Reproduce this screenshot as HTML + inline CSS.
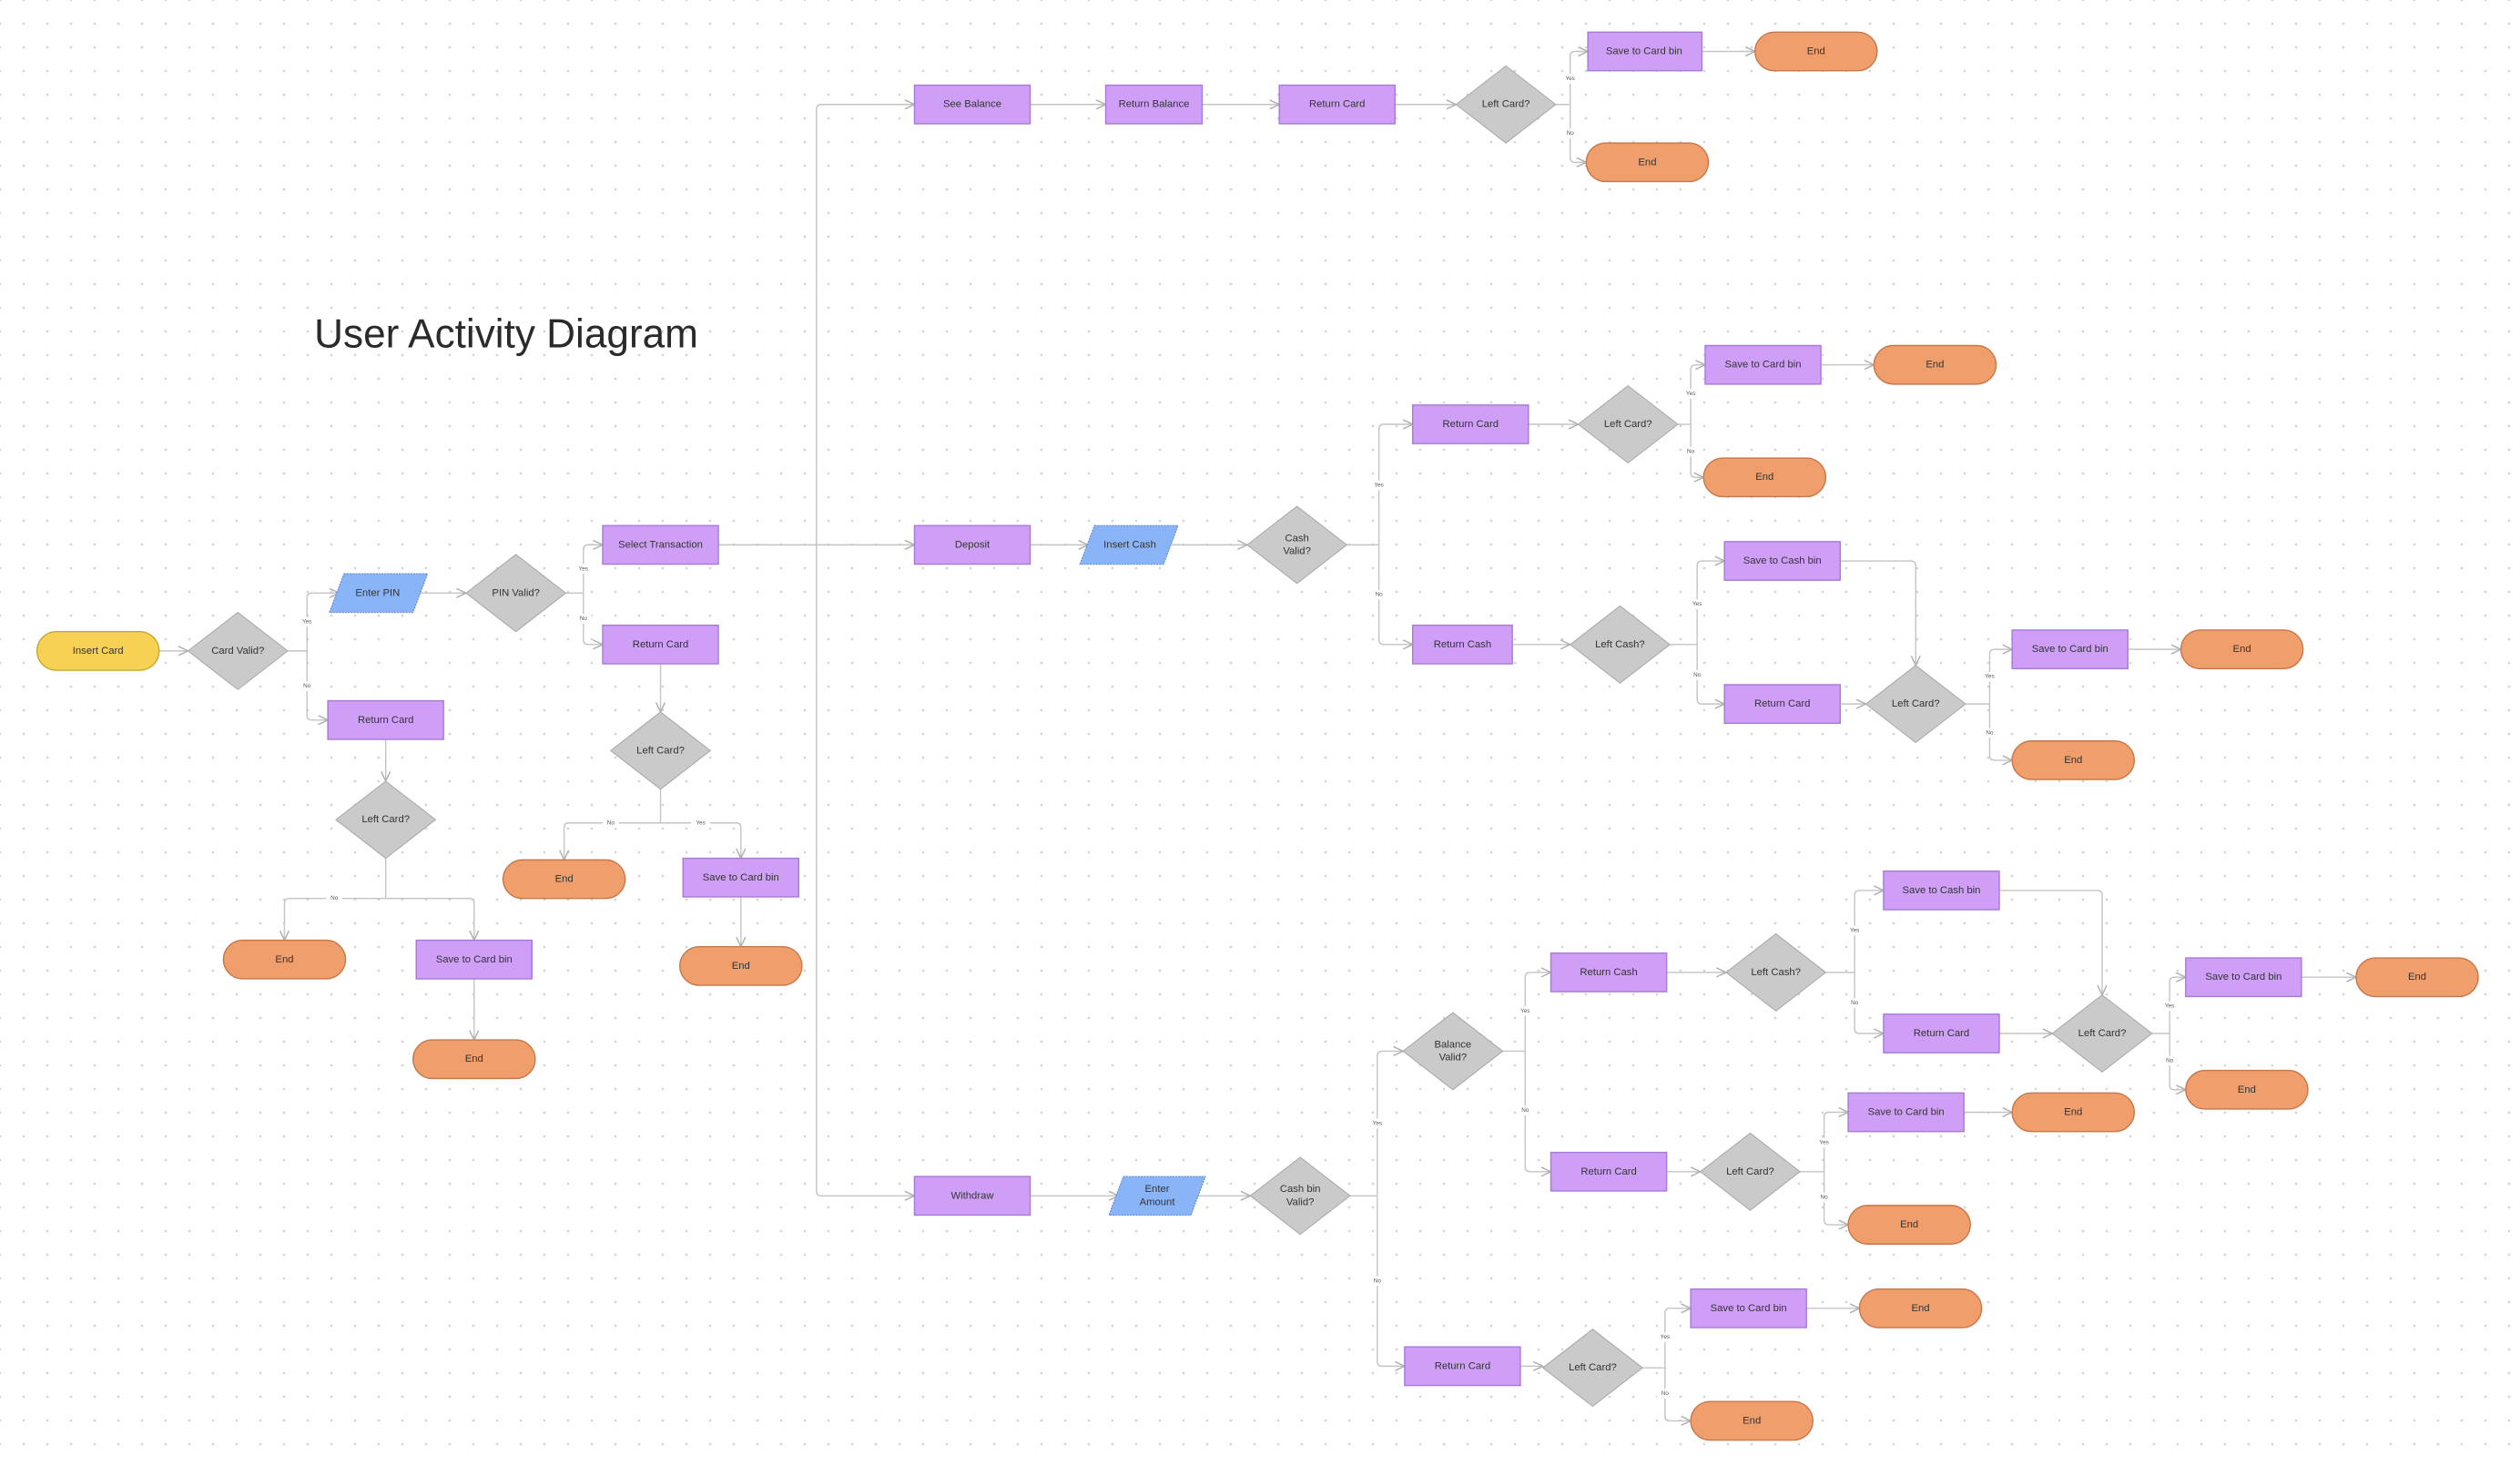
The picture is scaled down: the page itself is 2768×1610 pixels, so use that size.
<!DOCTYPE html>
<html><head><meta charset="utf-8"><style>
html,body{margin:0;padding:0;background:#fff;}
body{width:2768px;height:1610px;overflow:hidden;background-image:radial-gradient(circle,#d4d4d4 1.2px,transparent 1.5px);background-size:26px 26px;background-position:13px 13px;}
svg{position:absolute;left:0;top:0;}
text{font-family:"Liberation Sans",sans-serif;fill:#333;text-anchor:middle;dominant-baseline:central;font-size:6.4px;}
.l{font-size:3.6px;fill:#555;}
.r{fill:#cf9ff7;stroke:#a87ad8;stroke-width:0.8;}
.d{fill:#cbcacb;stroke:#a9a9a9;stroke-width:0.6;}
.t{fill:#ef9e6c;stroke:#c7774a;stroke-width:0.8;}
.y{fill:#f7d154;stroke:#c6a633;stroke-width:0.8;}
.p{fill:#8ab4f8;stroke:#6890d6;stroke-width:0.7;stroke-dasharray:1.2 0.6;}
.c{fill:none;stroke:#c4c4c4;stroke-width:0.8;}
.a{fill:none;stroke:#c4c4c4;stroke-width:0.8;marker-end:url(#m);}
</style></head><body>
<svg width="2768" height="1610" viewBox="0 0 1568 912.1" preserveAspectRatio="none">
<defs><marker id="m" viewBox="0 0 10 10" refX="9.5" refY="5" markerWidth="7" markerHeight="7" orient="auto" markerUnits="userSpaceOnUse"><path d="M1,1 L9.5,5 L1,9" fill="none" stroke="#b0b0b0" stroke-width="1.2"/></marker></defs>

<text x="315" y="208" style="font-size:25px;fill:#2a2a2a">User Activity Diagram</text>

<!-- connectors -->
<path class="a" d="M99,405 H117"/>
<path class="c" d="M179,405 H191"/>
<path class="a" d="M191,405 V372 Q191,369 194,369 H211"/>
<path class="a" d="M191,405 V445 Q191,448 194,448 H204"/>
<path class="a" d="M261,369 H290"/>
<path class="c" d="M352,369 H363"/>
<path class="a" d="M363,369 V342 Q363,339 366,339 H375"/>
<path class="a" d="M363,369 V398 Q363,401 366,401 H375"/>
<path class="a" d="M411,413 V443"/>
<path class="c" d="M411,490 V512"/>
<path class="a" d="M411,512 H354 Q351,512 351,515 V535"/>
<path class="a" d="M411,512 H458 Q461,512 461,515 V534"/>
<path class="a" d="M461,558 V589"/>
<path class="a" d="M240,460 V486"/>
<path class="c" d="M240,534 V559"/>
<path class="a" d="M240,559 H180 Q177,559 177,562 V585"/>
<path class="a" d="M240,559 H292 Q295,559 295,562 V585"/>
<path class="a" d="M295,609 V647"/>

<path class="c" d="M447,339 H508"/>
<path class="c" d="M508,68 V741"/>
<path class="a" d="M508,68 Q508,65 511,65 H569"/>
<path class="a" d="M508,339 H569"/>
<path class="a" d="M508,741 Q508,744 511,744 H569"/>

<path class="a" d="M641,65 H688"/>
<path class="a" d="M748,65 H796"/>
<path class="a" d="M868,65 H906"/>
<path class="c" d="M968,65 H977"/>
<path class="a" d="M977,65 V35 Q977,32 980,32 H988"/>
<path class="a" d="M977,65 V98 Q977,101 980,101 H987"/>
<path class="a" d="M1059,32 H1092"/>

<path class="a" d="M641,339 H677"/>
<path class="a" d="M729,339 H776"/>
<path class="c" d="M838,339 H858"/>
<path class="a" d="M858,339 V267 Q858,264 861,264 H879"/>
<path class="a" d="M858,339 V398 Q858,401 861,401 H879"/>
<path class="a" d="M951,264 H982"/>
<path class="c" d="M1044,264 H1052"/>
<path class="a" d="M1052,264 V230 Q1052,227 1055,227 H1061"/>
<path class="a" d="M1052,264 V294 Q1052,297 1055,297 H1060"/>
<path class="a" d="M1133,227 H1166"/>
<path class="a" d="M941,401 H977"/>
<path class="c" d="M1039,401 H1056"/>
<path class="a" d="M1056,401 V352 Q1056,349 1059,349 H1073"/>
<path class="a" d="M1056,401 V435 Q1056,438 1059,438 H1073"/>
<path class="a" d="M1145,349 H1189 Q1192,349 1192,352 V414"/>
<path class="a" d="M1145,438 H1161"/>
<path class="c" d="M1223,438 H1238"/>
<path class="a" d="M1238,438 V407 Q1238,404 1241,404 H1252"/>
<path class="a" d="M1238,438 V470 Q1238,473 1241,473 H1252"/>
<path class="a" d="M1324,404 H1357"/>

<path class="a" d="M641,744 H696"/>
<path class="a" d="M745,744 H778"/>
<path class="c" d="M840,744 H857"/>
<path class="a" d="M857,744 V657 Q857,654 860,654 H873"/>
<path class="a" d="M857,744 V847 Q857,850 860,850 H874"/>
<path class="c" d="M935,654 H949"/>
<path class="a" d="M949,654 V608 Q949,605 952,605 H965"/>
<path class="a" d="M949,654 V726 Q949,729 952,729 H965"/>
<path class="a" d="M1037,605 H1074"/>
<path class="c" d="M1136,605 H1154"/>
<path class="a" d="M1154,605 V557 Q1154,554 1157,554 H1172"/>
<path class="a" d="M1154,605 V640 Q1154,643 1157,643 H1172"/>
<path class="a" d="M1244,554 H1305 Q1308,554 1308,557 V619"/>
<path class="a" d="M1244,643 H1277"/>
<path class="c" d="M1339,643 H1350"/>
<path class="a" d="M1350,643 V611 Q1350,608 1353,608 H1360"/>
<path class="a" d="M1350,643 V675 Q1350,678 1353,678 H1360"/>
<path class="a" d="M1432,608 H1466"/>
<path class="a" d="M1037,729 H1058"/>
<path class="c" d="M1120,729 H1135"/>
<path class="a" d="M1135,729 V695 Q1135,692 1138,692 H1150"/>
<path class="a" d="M1135,729 V759 Q1135,762 1138,762 H1150"/>
<path class="a" d="M1222,692 H1252"/>
<path class="a" d="M946,850 H960"/>
<path class="c" d="M1022,851 H1036"/>
<path class="a" d="M1036,851 V817 Q1036,814 1039,814 H1052"/>
<path class="a" d="M1036,851 V881 Q1036,884 1039,884 H1052"/>
<path class="a" d="M1124,814 H1157"/>

<!-- connector labels -->
<g>
<rect x="185" y="384" width="12" height="6" fill="#fff"/><text class="l" x="191" y="387">Yes</text>
<rect x="186" y="424" width="10" height="6" fill="#fff"/><text class="l" x="191" y="427">No</text>
<rect x="357" y="351" width="12" height="6" fill="#fff"/><text class="l" x="363" y="354">Yes</text>
<rect x="358" y="382" width="10" height="6" fill="#fff"/><text class="l" x="363" y="385">No</text>
<rect x="375" y="509" width="10" height="6" fill="#fff"/><text class="l" x="380" y="512">No</text>
<rect x="430" y="509" width="12" height="6" fill="#fff"/><text class="l" x="436" y="512">Yes</text>
<rect x="203" y="556" width="10" height="6" fill="#fff"/><text class="l" x="208" y="559">No</text>
<rect x="971" y="46" width="12" height="6" fill="#fff"/><text class="l" x="977" y="49">Yes</text>
<rect x="972" y="80" width="10" height="6" fill="#fff"/><text class="l" x="977" y="83">No</text>
<rect x="852" y="299" width="12" height="6" fill="#fff"/><text class="l" x="858" y="302">Yes</text>
<rect x="853" y="367" width="10" height="6" fill="#fff"/><text class="l" x="858" y="370">No</text>
<rect x="1046" y="242" width="12" height="6" fill="#fff"/><text class="l" x="1052" y="245">Yes</text>
<rect x="1047" y="278" width="10" height="6" fill="#fff"/><text class="l" x="1052" y="281">No</text>
<rect x="1050" y="373" width="12" height="6" fill="#fff"/><text class="l" x="1056" y="376">Yes</text>
<rect x="1051" y="417" width="10" height="6" fill="#fff"/><text class="l" x="1056" y="420">No</text>
<rect x="1232" y="418" width="12" height="6" fill="#fff"/><text class="l" x="1238" y="421">Yes</text>
<rect x="1233" y="453" width="10" height="6" fill="#fff"/><text class="l" x="1238" y="456">No</text>
<rect x="851" y="696" width="12" height="6" fill="#fff"/><text class="l" x="857" y="699">Yes</text>
<rect x="852" y="794" width="10" height="6" fill="#fff"/><text class="l" x="857" y="797">No</text>
<rect x="943" y="626" width="12" height="6" fill="#fff"/><text class="l" x="949" y="629">Yes</text>
<rect x="944" y="688" width="10" height="6" fill="#fff"/><text class="l" x="949" y="691">No</text>
<rect x="1148" y="576" width="12" height="6" fill="#fff"/><text class="l" x="1154" y="579">Yes</text>
<rect x="1149" y="621" width="10" height="6" fill="#fff"/><text class="l" x="1154" y="624">No</text>
<rect x="1344" y="623" width="12" height="6" fill="#fff"/><text class="l" x="1350" y="626">Yes</text>
<rect x="1345" y="657" width="10" height="6" fill="#fff"/><text class="l" x="1350" y="660">No</text>
<rect x="1129" y="708" width="12" height="6" fill="#fff"/><text class="l" x="1135" y="711">Yes</text>
<rect x="1130" y="742" width="10" height="6" fill="#fff"/><text class="l" x="1135" y="745">No</text>
<rect x="1030" y="829" width="12" height="6" fill="#fff"/><text class="l" x="1036" y="832">Yes</text>
<rect x="1031" y="864" width="10" height="6" fill="#fff"/><text class="l" x="1036" y="867">No</text>
</g>

<!-- left section -->
<rect class="y" x="23" y="393" width="76" height="24" rx="12"/><text x="61" y="405">Insert Card</text>
<polygon class="d" points="148,381 179,405 148,429 117,405"/><text x="148" y="405">Card Valid?</text>
<polygon class="p" points="214,357 266,357 257,381 205,381"/><text x="235" y="369">Enter PIN</text>
<polygon class="d" points="321,345 352,369 321,393 290,369"/><text x="321" y="369">PIN Valid?</text>
<rect class="r" x="375" y="327" width="72" height="24"/><text x="411" y="339">Select Transaction</text>
<rect class="r" x="375" y="389" width="72" height="24"/><text x="411" y="401">Return Card</text>
<polygon class="d" points="411,443 442,467 411,491 380,467"/><text x="411" y="467">Left Card?</text>
<rect class="t" x="313" y="535" width="76" height="24" rx="12"/><text x="351" y="547">End</text>
<rect class="r" x="425" y="534" width="72" height="24"/><text x="461" y="546">Save to Card bin</text>
<rect class="t" x="423" y="589" width="76" height="24" rx="12"/><text x="461" y="601">End</text>
<rect class="r" x="204" y="436" width="72" height="24"/><text x="240" y="448">Return Card</text>
<polygon class="d" points="240,486 271,510 240,534 209,510"/><text x="240" y="510">Left Card?</text>
<rect class="t" x="139" y="585" width="76" height="24" rx="12"/><text x="177" y="597">End</text>
<rect class="r" x="259" y="585" width="72" height="24"/><text x="295" y="597">Save to Card bin</text>
<rect class="t" x="257" y="647" width="76" height="24" rx="12"/><text x="295" y="659">End</text>

<!-- top row -->
<rect class="r" x="569" y="53" width="72" height="24"/><text x="605" y="65">See Balance</text>
<rect class="r" x="688" y="53" width="60" height="24"/><text x="718" y="65">Return Balance</text>
<rect class="r" x="796" y="53" width="72" height="24"/><text x="832" y="65">Return Card</text>
<polygon class="d" points="937,41 968,65 937,89 906,65"/><text x="937" y="65">Left Card?</text>
<rect class="r" x="988" y="20" width="71" height="24"/><text x="1023" y="32">Save to Card bin</text>
<rect class="t" x="1092" y="20" width="76" height="24" rx="12"/><text x="1130" y="32">End</text>
<rect class="t" x="987" y="89" width="76" height="24" rx="12"/><text x="1025" y="101">End</text>

<!-- deposit -->
<rect class="r" x="569" y="327" width="72" height="24"/><text x="605" y="339">Deposit</text>
<polygon class="p" points="681,327 733,327 724,351 672,351"/><text x="703" y="339">Insert Cash</text>
<polygon class="d" points="807,315 838,339 807,363 776,339"/><text x="807" y="335">Cash</text><text x="807" y="343">Valid?</text>
<rect class="r" x="879" y="252" width="72" height="24"/><text x="915" y="264">Return Card</text>
<polygon class="d" points="1013,240 1044,264 1013,288 982,264"/><text x="1013" y="264">Left Card?</text>
<rect class="r" x="1061" y="215" width="72" height="24"/><text x="1097" y="227">Save to Card bin</text>
<rect class="t" x="1166" y="215" width="76" height="24" rx="12"/><text x="1204" y="227">End</text>
<rect class="t" x="1060" y="285" width="76" height="24" rx="12"/><text x="1098" y="297">End</text>
<rect class="r" x="879" y="389" width="62" height="24"/><text x="910" y="401">Return Cash</text>
<polygon class="d" points="1008,377 1039,401 1008,425 977,401"/><text x="1008" y="401">Left Cash?</text>
<rect class="r" x="1073" y="337" width="72" height="24"/><text x="1109" y="349">Save to Cash bin</text>
<rect class="r" x="1073" y="426" width="72" height="24"/><text x="1109" y="438">Return Card</text>
<polygon class="d" points="1192,414 1223,438 1192,462 1161,438"/><text x="1192" y="438">Left Card?</text>
<rect class="r" x="1252" y="392" width="72" height="24"/><text x="1288" y="404">Save to Card bin</text>
<rect class="t" x="1357" y="392" width="76" height="24" rx="12"/><text x="1395" y="404">End</text>
<rect class="t" x="1252" y="461" width="76" height="24" rx="12"/><text x="1290" y="473">End</text>

<!-- withdraw -->
<rect class="r" x="569" y="732" width="72" height="24"/><text x="605" y="744">Withdraw</text>
<polygon class="p" points="699,732 750,732 741,756 690,756"/><text x="720" y="740">Enter</text><text x="720" y="748">Amount</text>
<polygon class="d" points="809,720 840,744 809,768 778,744"/><text x="809" y="740">Cash bin</text><text x="809" y="748">Valid?</text>
<polygon class="d" points="904,630 935,654 904,678 873,654"/><text x="904" y="650">Balance</text><text x="904" y="658">Valid?</text>
<rect class="r" x="965" y="593" width="72" height="24"/><text x="1001" y="605">Return Cash</text>
<polygon class="d" points="1105,581 1136,605 1105,629 1074,605"/><text x="1105" y="605">Left Cash?</text>
<rect class="r" x="1172" y="542" width="72" height="24"/><text x="1208" y="554">Save to Cash bin</text>
<rect class="r" x="1172" y="631" width="72" height="24"/><text x="1208" y="643">Return Card</text>
<polygon class="d" points="1308,619 1339,643 1308,667 1277,643"/><text x="1308" y="643">Left Card?</text>
<rect class="r" x="1360" y="596" width="72" height="24"/><text x="1396" y="608">Save to Card bin</text>
<rect class="t" x="1466" y="596" width="76" height="24" rx="12"/><text x="1504" y="608">End</text>
<rect class="t" x="1360" y="666" width="76" height="24" rx="12"/><text x="1398" y="678">End</text>
<rect class="r" x="965" y="717" width="72" height="24"/><text x="1001" y="729">Return Card</text>
<polygon class="d" points="1089,705 1120,729 1089,753 1058,729"/><text x="1089" y="729">Left Card?</text>
<rect class="r" x="1150" y="680" width="72" height="24"/><text x="1186" y="692">Save to Card bin</text>
<rect class="t" x="1252" y="680" width="76" height="24" rx="12"/><text x="1290" y="692">End</text>
<rect class="t" x="1150" y="750" width="76" height="24" rx="12"/><text x="1188" y="762">End</text>
<rect class="r" x="874" y="838" width="72" height="24"/><text x="910" y="850">Return Card</text>
<polygon class="d" points="991,827 1022,851 991,875 960,851"/><text x="991" y="851">Left Card?</text>
<rect class="r" x="1052" y="802" width="72" height="24"/><text x="1088" y="814">Save to Card bin</text>
<rect class="t" x="1157" y="802" width="76" height="24" rx="12"/><text x="1195" y="814">End</text>
<rect class="t" x="1052" y="872" width="76" height="24" rx="12"/><text x="1090" y="884">End</text>
</svg>
</body></html>
